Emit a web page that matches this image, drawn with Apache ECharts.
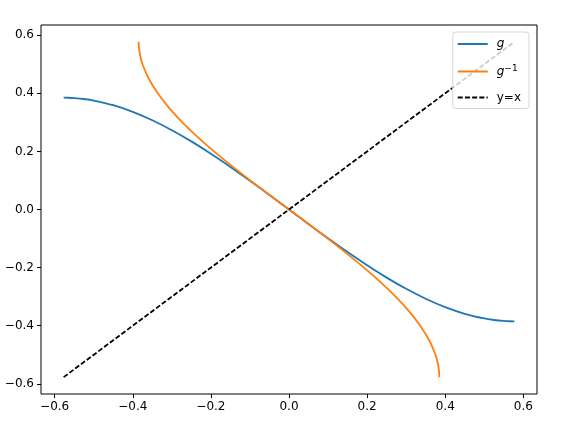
<!DOCTYPE html>
<html>
<head>
<meta charset="utf-8">
<script src="https://cdn.jsdelivr.net/npm/echarts@6/dist/echarts.min.js"></script>
<style>
  html, body { margin: 0; padding: 0; background: #fff; }
  #chart { width: 563px; height: 437px; }
</style>
</head>
<body>
<div id="chart"></div>
<script>
  // g
  var gX = [-0.577, -0.565, -0.55, -0.525, -0.5, -0.45, -0.4, -0.35, -0.3, -0.25, -0.2, -0.15, -0.1, -0.05, 0,
            0.05, 0.1, 0.15, 0.2, 0.25, 0.3, 0.35, 0.4, 0.45, 0.5, 0.525, 0.55, 0.565, 0.577]
  var gY = [0.3849, 0.3846, 0.3836, 0.3803, 0.375, 0.3589, 0.336, 0.3071, 0.273, 0.2344, 0.192, 0.1466, 0.099, 0.0499, 0,
            -0.0499, -0.099, -0.1466, -0.192, -0.2344, -0.273, -0.3071, -0.336, -0.3589, -0.375, -0.3803, -0.3836, -0.3846, -0.3849]
  // y=x reference line ends
  var diagX = [-0.577, 0.577]
  var diagY = [-0.577, 0.577]
  var ticks = [-0.6, -0.4, -0.2, 0, 0.2, 0.4, 0.6]

  var fmt = function (v) {
    var s = Math.abs(v).toFixed(1)
    return v < -1e-9 ? '\u2212' + s : s
  }
  var font = 'DejaVu Sans'

  function axis () {
    return {
      type: 'value',
      min: -0.635,
      max: 0.635,
      axisLine: { show: false, onZero: false },
      splitLine: { show: false },
      axisTick: { show: true, customValues: ticks, length: 4, lineStyle: { color: '#000', width: 1 } },
      axisLabel: { customValues: ticks, formatter: fmt, color: '#000', fontFamily: font, fontSize: 12, margin: 7 }
    }
  }

  var chart = echarts.init(document.getElementById('chart'))
  chart.setOption({
    animation: false,
    backgroundColor: '#fff',
    grid: { left: 41, right: 26, top: 25, bottom: 43, show: true, borderColor: '#000', borderWidth: 1, backgroundColor: 'transparent' },
    xAxis: axis(),
    yAxis: axis(),
    legend: {
      orient: 'vertical',
      right: 34,
      top: 32,
      itemWidth: 30,
      itemHeight: 10,
      itemGap: 14,
      padding: [6, 8, 5, 4],
      borderColor: '#d6d6d6',
      borderWidth: 1,
      borderRadius: 3,
      backgroundColor: 'rgba(255,255,255,0.8)',
      itemStyle: { opacity: 0 },
      data: ['g', 'ginv', 'y=x'],
      formatter: function (name) {
        if (name === 'g') return '{i|g}'
        if (name === 'ginv') return '{i|g}{sup|\u22121}'
        return name
      },
      textStyle: {
        color: '#000', fontFamily: font, fontSize: 12, padding: [0, 0, 0, 4],
        rich: {
          i: { fontStyle: 'italic', fontFamily: font, fontSize: 12, color: '#000' },
          sup: { fontFamily: font, fontSize: 9, color: '#000', verticalAlign: 'top', padding: [0, 0, 6, 0] }
        }
      }
    },
    series: [
      {
        name: 'g', type: 'line', symbol: 'none', smooth: 0.3,
        lineStyle: { color: '#1f77b4', width: 1.8 }, itemStyle: { color: '#1f77b4' },
        data: gX.map(function (x, i) { return [x, gY[i]] })
      },
      {
        name: 'ginv', type: 'line', symbol: 'none', smooth: 0.3,
        lineStyle: { color: '#ff7f0e', width: 1.8 }, itemStyle: { color: '#ff7f0e' },
        data: gX.map(function (x, i) { return [gY[i], x] })
      },
      {
        name: 'y=x', type: 'line', symbol: 'none',
        lineStyle: { color: '#000', width: 1.8, type: [5, 2.2] }, itemStyle: { color: '#000' },
        data: diagX.map(function (x, i) { return [x, diagY[i]] })
      }
    ]
  })
</script>
</body>
</html>
